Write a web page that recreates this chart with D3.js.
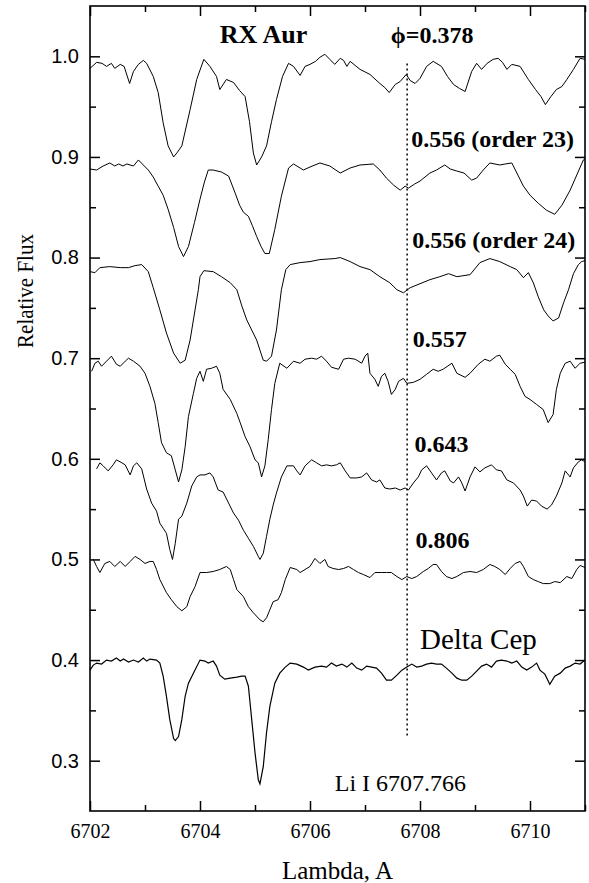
<!DOCTYPE html>
<html>
<head>
<meta charset="utf-8">
<script src="https://cdn.jsdelivr.net/npm/d3@7"></script>
<style>
  body { margin: 0; background: #fff; }
  svg { display: block; }
</style>
</head>
<body>
<div id="chart"></div>
<script>
// spectra: [wavelength (A), relative flux]
var phase378 = [[6702.00,0.988],[6702.12,0.994],[6702.22,0.993],[6702.30,0.990],[6702.39,0.993],[6702.45,0.988],[6702.55,0.992],[6702.62,0.990],[6702.72,0.973],[6702.79,0.985],[6702.88,0.992],[6702.97,0.996],[6703.03,0.993],[6703.15,0.980],[6703.24,0.964],[6703.33,0.934],[6703.42,0.911],[6703.52,0.900],[6703.58,0.904],[6703.67,0.911],[6703.82,0.947],[6703.94,0.977],[6704.07,0.997],[6704.18,0.990],[6704.30,0.980],[6704.36,0.967],[6704.48,0.977],[6704.61,0.974],[6704.72,0.966],[6704.82,0.960],[6704.90,0.935],[6704.97,0.904],[6705.03,0.892],[6705.12,0.900],[6705.21,0.911],[6705.30,0.935],[6705.39,0.957],[6705.50,0.980],[6705.61,0.993],[6705.70,0.990],[6705.82,0.981],[6705.91,0.990],[6706.00,0.992],[6706.10,0.995],[6706.18,0.999],[6706.27,1.002],[6706.36,0.997],[6706.45,0.992],[6706.55,0.998],[6706.61,0.996],[6706.67,0.990],[6706.73,0.995],[6706.82,0.991],[6706.91,0.987],[6707.09,0.982],[6707.27,0.973],[6707.36,0.969],[6707.44,0.964],[6707.55,0.972],[6707.64,0.975],[6707.75,0.982],[6707.82,0.976],[6707.91,0.973],[6708.00,0.978],[6708.12,0.990],[6708.24,0.995],[6708.39,0.990],[6708.50,0.980],[6708.61,0.972],[6708.72,0.968],[6708.82,0.965],[6708.94,0.985],[6709.03,0.993],[6709.12,0.987],[6709.22,0.993],[6709.33,0.997],[6709.42,0.998],[6709.50,0.994],[6709.58,0.987],[6709.67,0.992],[6709.82,0.990],[6709.97,0.977],[6710.10,0.967],[6710.20,0.960],[6710.28,0.952],[6710.38,0.960],[6710.48,0.967],[6710.58,0.970],[6710.67,0.977],[6710.79,0.987],[6710.91,0.998],[6711.00,0.997]];

var order23 = [[6702.00,0.888],[6702.12,0.887],[6702.24,0.891],[6702.36,0.894],[6702.45,0.891],[6702.52,0.893],[6702.60,0.891],[6702.67,0.893],[6702.79,0.891],[6702.88,0.897],[6702.97,0.892],[6703.06,0.887],[6703.15,0.880],[6703.24,0.871],[6703.33,0.862],[6703.42,0.848],[6703.52,0.830],[6703.61,0.811],[6703.70,0.801],[6703.79,0.811],[6703.90,0.835],[6704.00,0.858],[6704.08,0.875],[6704.15,0.887],[6704.24,0.887],[6704.39,0.885],[6704.52,0.881],[6704.64,0.864],[6704.72,0.852],[6704.79,0.845],[6704.88,0.841],[6704.95,0.832],[6705.03,0.821],[6705.11,0.811],[6705.18,0.804],[6705.26,0.804],[6705.36,0.828],[6705.48,0.861],[6705.61,0.889],[6705.70,0.893],[6705.82,0.889],[6705.88,0.887],[6706.00,0.890],[6706.18,0.894],[6706.36,0.891],[6706.55,0.884],[6706.73,0.889],[6706.91,0.892],[6707.15,0.893],[6707.27,0.887],[6707.39,0.879],[6707.52,0.872],[6707.64,0.867],[6707.73,0.871],[6707.79,0.869],[6707.90,0.873],[6708.00,0.876],[6708.18,0.884],[6708.30,0.887],[6708.45,0.892],[6708.55,0.888],[6708.67,0.886],[6708.80,0.884],[6708.94,0.877],[6709.03,0.879],[6709.15,0.887],[6709.27,0.894],[6709.45,0.892],[6709.55,0.893],[6709.67,0.894],[6709.78,0.882],[6709.88,0.871],[6710.00,0.862],[6710.15,0.854],[6710.30,0.847],[6710.45,0.843],[6710.58,0.852],[6710.73,0.867],[6710.85,0.882],[6710.97,0.897],[6711.00,0.898]];

var order24 = [[6702.00,0.786],[6702.09,0.785],[6702.18,0.790],[6702.36,0.791],[6702.55,0.790],[6702.70,0.790],[6702.82,0.792],[6702.94,0.793],[6703.06,0.786],[6703.15,0.770],[6703.27,0.748],[6703.39,0.725],[6703.52,0.705],[6703.64,0.695],[6703.73,0.698],[6703.82,0.718],[6703.91,0.748],[6703.97,0.768],[6704.00,0.781],[6704.07,0.787],[6704.24,0.786],[6704.39,0.781],[6704.55,0.775],[6704.67,0.768],[6704.76,0.752],[6704.85,0.738],[6704.94,0.728],[6705.03,0.718],[6705.15,0.698],[6705.21,0.697],[6705.30,0.702],[6705.39,0.728],[6705.48,0.768],[6705.56,0.788],[6705.64,0.793],[6705.82,0.795],[6706.00,0.796],[6706.18,0.798],[6706.45,0.799],[6706.55,0.800],[6706.73,0.796],[6706.91,0.791],[6707.09,0.788],[6707.27,0.781],[6707.45,0.775],[6707.58,0.768],[6707.70,0.765],[6707.82,0.770],[6708.00,0.774],[6708.18,0.778],[6708.36,0.781],[6708.52,0.784],[6708.67,0.781],[6708.91,0.783],[6709.09,0.795],[6709.27,0.799],[6709.45,0.796],[6709.64,0.791],[6709.76,0.788],[6709.88,0.780],[6709.97,0.785],[6710.06,0.775],[6710.15,0.761],[6710.25,0.748],[6710.33,0.742],[6710.42,0.737],[6710.52,0.740],[6710.61,0.755],[6710.70,0.768],[6710.79,0.784],[6710.88,0.793],[6710.94,0.796],[6711.00,0.797]];

var phase557 = [[6702.03,0.687],[6702.09,0.695],[6702.15,0.697],[6702.21,0.692],[6702.30,0.697],[6702.39,0.702],[6702.48,0.694],[6702.55,0.692],[6702.64,0.697],[6702.70,0.700],[6702.79,0.697],[6702.91,0.692],[6703.00,0.685],[6703.09,0.672],[6703.18,0.655],[6703.24,0.636],[6703.30,0.616],[6703.39,0.606],[6703.48,0.603],[6703.55,0.589],[6703.61,0.577],[6703.67,0.589],[6703.73,0.612],[6703.79,0.642],[6703.88,0.665],[6703.94,0.680],[6704.00,0.687],[6704.06,0.677],[6704.12,0.689],[6704.21,0.690],[6704.30,0.692],[6704.36,0.685],[6704.42,0.669],[6704.55,0.659],[6704.67,0.645],[6704.73,0.636],[6704.82,0.622],[6704.91,0.612],[6705.00,0.599],[6705.06,0.596],[6705.12,0.582],[6705.18,0.593],[6705.24,0.619],[6705.30,0.649],[6705.36,0.675],[6705.45,0.695],[6705.58,0.690],[6705.70,0.697],[6705.82,0.695],[6705.91,0.699],[6706.03,0.700],[6706.12,0.699],[6706.21,0.702],[6706.30,0.697],[6706.39,0.691],[6706.52,0.689],[6706.61,0.699],[6706.70,0.700],[6706.82,0.699],[6706.94,0.695],[6707.00,0.702],[6707.05,0.705],[6707.09,0.685],[6707.18,0.679],[6707.24,0.672],[6707.30,0.682],[6707.36,0.685],[6707.42,0.677],[6707.48,0.664],[6707.55,0.669],[6707.61,0.677],[6707.70,0.680],[6707.76,0.675],[6707.88,0.676],[6708.00,0.679],[6708.12,0.684],[6708.24,0.689],[6708.33,0.687],[6708.42,0.689],[6708.58,0.695],[6708.67,0.685],[6708.82,0.681],[6708.91,0.685],[6709.06,0.694],[6709.18,0.699],[6709.27,0.697],[6709.39,0.702],[6709.45,0.703],[6709.55,0.694],[6709.64,0.689],[6709.73,0.684],[6709.82,0.672],[6709.91,0.662],[6710.00,0.659],[6710.12,0.654],[6710.24,0.649],[6710.33,0.636],[6710.42,0.644],[6710.48,0.669],[6710.55,0.685],[6710.64,0.695],[6710.73,0.697],[6710.82,0.690],[6710.91,0.695],[6711.00,0.696]];

var phase643 = [[6702.12,0.590],[6702.18,0.596],[6702.24,0.593],[6702.33,0.588],[6702.42,0.594],[6702.48,0.599],[6702.58,0.596],[6702.64,0.594],[6702.73,0.584],[6702.79,0.593],[6702.85,0.596],[6702.94,0.590],[6703.03,0.570],[6703.12,0.556],[6703.21,0.548],[6703.27,0.536],[6703.33,0.531],[6703.39,0.526],[6703.45,0.510],[6703.50,0.500],[6703.55,0.516],[6703.61,0.540],[6703.67,0.543],[6703.76,0.556],[6703.85,0.573],[6703.94,0.582],[6704.00,0.584],[6704.09,0.584],[6704.18,0.586],[6704.24,0.582],[6704.33,0.569],[6704.42,0.567],[6704.52,0.556],[6704.61,0.546],[6704.70,0.539],[6704.79,0.529],[6704.88,0.521],[6704.97,0.513],[6705.06,0.503],[6705.09,0.500],[6705.15,0.506],[6705.21,0.523],[6705.27,0.540],[6705.33,0.554],[6705.39,0.566],[6705.48,0.582],[6705.58,0.593],[6705.70,0.593],[6705.76,0.588],[6705.82,0.584],[6705.91,0.593],[6706.03,0.599],[6706.12,0.596],[6706.21,0.593],[6706.30,0.594],[6706.39,0.593],[6706.48,0.594],[6706.55,0.596],[6706.64,0.588],[6706.73,0.581],[6706.85,0.581],[6706.94,0.582],[6707.03,0.586],[6707.12,0.579],[6707.21,0.577],[6707.27,0.579],[6707.36,0.571],[6707.45,0.570],[6707.55,0.571],[6707.64,0.569],[6707.73,0.571],[6707.79,0.569],[6707.88,0.576],[6707.97,0.582],[6708.03,0.589],[6708.12,0.593],[6708.21,0.586],[6708.30,0.579],[6708.39,0.586],[6708.45,0.588],[6708.55,0.578],[6708.61,0.576],[6708.70,0.582],[6708.76,0.576],[6708.82,0.568],[6708.91,0.582],[6709.00,0.592],[6709.09,0.587],[6709.18,0.591],[6709.30,0.594],[6709.39,0.589],[6709.48,0.588],[6709.58,0.579],[6709.70,0.576],[6709.82,0.569],[6709.88,0.563],[6709.95,0.553],[6710.03,0.559],[6710.12,0.558],[6710.21,0.553],[6710.31,0.550],[6710.39,0.554],[6710.48,0.563],[6710.58,0.576],[6710.64,0.588],[6710.73,0.582],[6710.79,0.591],[6710.88,0.597],[6710.94,0.599],[6711.00,0.597]];

var phase806 = [[6702.06,0.500],[6702.12,0.493],[6702.18,0.487],[6702.27,0.496],[6702.36,0.498],[6702.45,0.493],[6702.55,0.498],[6702.64,0.493],[6702.73,0.498],[6702.82,0.503],[6702.91,0.500],[6703.00,0.496],[6703.09,0.498],[6703.15,0.498],[6703.21,0.490],[6703.27,0.480],[6703.39,0.467],[6703.48,0.460],[6703.58,0.453],[6703.67,0.449],[6703.76,0.453],[6703.82,0.463],[6703.91,0.473],[6704.00,0.487],[6704.12,0.487],[6704.24,0.488],[6704.36,0.490],[6704.48,0.493],[6704.55,0.490],[6704.61,0.480],[6704.67,0.470],[6704.79,0.463],[6704.88,0.453],[6704.97,0.447],[6705.09,0.440],[6705.15,0.438],[6705.21,0.442],[6705.27,0.450],[6705.33,0.458],[6705.42,0.460],[6705.48,0.467],[6705.55,0.480],[6705.64,0.492],[6705.76,0.490],[6705.82,0.487],[6705.91,0.490],[6706.00,0.493],[6706.09,0.501],[6706.18,0.496],[6706.27,0.500],[6706.33,0.493],[6706.42,0.491],[6706.52,0.490],[6706.61,0.491],[6706.70,0.493],[6706.79,0.490],[6706.88,0.487],[6706.97,0.485],[6707.09,0.482],[6707.18,0.487],[6707.30,0.487],[6707.39,0.487],[6707.48,0.487],[6707.58,0.483],[6707.67,0.480],[6707.76,0.483],[6707.85,0.481],[6707.94,0.483],[6708.06,0.488],[6708.15,0.491],[6708.24,0.495],[6708.30,0.495],[6708.39,0.488],[6708.48,0.483],[6708.58,0.481],[6708.67,0.483],[6708.79,0.487],[6708.91,0.488],[6709.03,0.487],[6709.15,0.490],[6709.27,0.495],[6709.36,0.493],[6709.45,0.490],[6709.55,0.485],[6709.64,0.491],[6709.73,0.496],[6709.82,0.498],[6709.88,0.493],[6709.97,0.483],[6710.06,0.480],[6710.15,0.478],[6710.24,0.476],[6710.36,0.476],[6710.45,0.478],[6710.55,0.477],[6710.67,0.483],[6710.76,0.481],[6710.85,0.490],[6710.91,0.494],[6711.00,0.492]];

var deltaCep = [[6702.00,0.390],[6702.06,0.395],[6702.12,0.397],[6702.21,0.396],[6702.30,0.400],[6702.39,0.399],[6702.48,0.402],[6702.55,0.399],[6702.61,0.401],[6702.70,0.398],[6702.79,0.400],[6702.88,0.398],[6702.97,0.402],[6703.03,0.399],[6703.09,0.401],[6703.21,0.400],[6703.27,0.397],[6703.33,0.384],[6703.39,0.364],[6703.45,0.341],[6703.52,0.322],[6703.55,0.320],[6703.61,0.324],[6703.67,0.341],[6703.73,0.364],[6703.79,0.377],[6703.88,0.387],[6704.00,0.400],[6704.09,0.399],[6704.15,0.397],[6704.24,0.399],[6704.30,0.394],[6704.36,0.385],[6704.45,0.381],[6704.55,0.382],[6704.67,0.383],[6704.76,0.384],[6704.82,0.384],[6704.88,0.374],[6704.94,0.341],[6705.00,0.308],[6705.06,0.281],[6705.09,0.277],[6705.15,0.294],[6705.21,0.328],[6705.27,0.354],[6705.36,0.377],[6705.45,0.387],[6705.55,0.393],[6705.64,0.397],[6705.76,0.396],[6705.88,0.393],[6705.97,0.390],[6706.09,0.393],[6706.21,0.394],[6706.30,0.393],[6706.39,0.397],[6706.48,0.394],[6706.58,0.396],[6706.67,0.393],[6706.76,0.397],[6706.85,0.392],[6706.94,0.390],[6707.03,0.394],[6707.12,0.393],[6707.21,0.392],[6707.30,0.387],[6707.39,0.380],[6707.48,0.380],[6707.58,0.385],[6707.67,0.390],[6707.76,0.393],[6707.85,0.396],[6707.94,0.393],[6708.03,0.394],[6708.12,0.396],[6708.21,0.397],[6708.30,0.396],[6708.39,0.396],[6708.48,0.392],[6708.58,0.387],[6708.67,0.382],[6708.76,0.380],[6708.85,0.380],[6708.94,0.384],[6709.03,0.389],[6709.12,0.394],[6709.21,0.396],[6709.30,0.393],[6709.39,0.399],[6709.48,0.400],[6709.58,0.399],[6709.67,0.397],[6709.76,0.399],[6709.85,0.393],[6709.94,0.390],[6710.03,0.393],[6710.12,0.397],[6710.18,0.390],[6710.27,0.386],[6710.36,0.376],[6710.45,0.384],[6710.55,0.387],[6710.64,0.392],[6710.73,0.394],[6710.82,0.397],[6710.91,0.396],[6711.00,0.400]];

// axis ticks
var xMajor = [6702, 6704, 6706, 6708, 6710];
var xMinor = [6703, 6705, 6707, 6709, 6711];
var yMajor = [0.3, 0.4, 0.5, 0.6, 0.7, 0.8, 0.9, 1.0];
var yMinor = [0.35, 0.45, 0.55, 0.65, 0.75, 0.85, 0.95];

// Li I line marker
var liLine = 6707.766;
var liRange = [0.325, 0.995];

// labels next to each spectrum: text, wavelength, flux at baseline
var labelText = ["\u03D5=0.378", "0.556 (order 23)", "0.556 (order 24)", "0.557", "0.643", "0.806"];
var labelX = [6707.47, 6707.84, 6707.86, 6707.87, 6707.90, 6707.92];
var labelY = [1.013, 0.910, 0.810, 0.711, 0.607, 0.511];

var svgWidth = 589;
var svgHeight = 883;
var margin = {top: 6, right: 4, bottom: 72, left: 90},
    width = svgWidth - margin.left - margin.right,
    height = svgHeight - margin.top - margin.bottom;

var serif = "'Liberation Serif', 'Times New Roman', serif";
var sans = "'Liberation Sans', Arial, sans-serif";

var svg = d3.select("#chart")
    .append("svg")
    .attr("width", svgWidth)
    .attr("height", svgHeight);

var chart = svg.append("g")
    .attr("transform", `translate(${margin.left}, ${margin.top})`);

var x = d3.scaleLinear().domain([6702, 6711]).range([0, width]);
var y = d3.scaleLinear().domain([0.25, 1.05]).range([height, 0]);

// axes with inward ticks
function noDomain(g) { g.select(".domain").remove(); }

chart.append("g")
    .attr("transform", `translate(0, ${height})`)
    .call(d3.axisBottom(x).tickValues(xMajor).tickSize(-10).tickPadding(13).tickFormat(d3.format("d")))
    .call(noDomain)
    .call(g => g.selectAll("text").attr("font-family", serif).attr("font-size", 20).attr("fill", "#000"));
chart.append("g")
    .attr("transform", `translate(0, ${height})`)
    .call(d3.axisBottom(x).tickValues(xMinor).tickSize(-6).tickFormat(""))
    .call(noDomain);
chart.append("g")
    .call(d3.axisTop(x).tickValues(xMajor).tickSize(-10).tickFormat(""))
    .call(noDomain);
chart.append("g")
    .call(d3.axisTop(x).tickValues(xMinor).tickSize(-6).tickFormat(""))
    .call(noDomain);

chart.append("g")
    .call(d3.axisLeft(y).tickValues(yMajor).tickSize(-10).tickPadding(11).tickFormat(d3.format(".1f")))
    .call(noDomain)
    .call(g => g.selectAll("text").attr("font-family", sans).attr("font-size", 20).attr("fill", "#000"));
chart.append("g")
    .call(d3.axisLeft(y).tickValues(yMinor).tickSize(-6).tickFormat(""))
    .call(noDomain);
chart.append("g")
    .attr("transform", `translate(${width}, 0)`)
    .call(d3.axisRight(y).tickValues(yMajor).tickSize(-10).tickFormat(""))
    .call(noDomain);
chart.append("g")
    .attr("transform", `translate(${width}, 0)`)
    .call(d3.axisRight(y).tickValues(yMinor).tickSize(-6).tickFormat(""))
    .call(noDomain);

chart.selectAll(".tick line").attr("stroke", "#000").attr("stroke-width", 1.5);

// frame
chart.append("rect")
    .attr("width", width)
    .attr("height", height)
    .attr("fill", "none")
    .attr("stroke", "#000")
    .attr("stroke-width", 1.6);

// dotted Li line
chart.append("line")
    .attr("x1", x(liLine)).attr("x2", x(liLine))
    .attr("y1", y(liRange[0])).attr("y2", y(liRange[1]))
    .attr("stroke", "#000")
    .attr("stroke-width", 1.5)
    .attr("stroke-dasharray", "2,3");

// spectra
var line = d3.line()
    .x(d => x(d[0]))
    .y(d => y(d[1]));

var spectra = [phase378, order23, order24, phase557, phase643, phase806];
chart.selectAll(".spec")
    .data(spectra)
    .enter()
    .append("path")
    .attr("class", "spec")
    .attr("d", line)
    .attr("fill", "none")
    .attr("stroke", "#000")
    .attr("stroke-width", 1);

chart.append("path")
    .datum(deltaCep)
    .attr("d", line)
    .attr("fill", "none")
    .attr("stroke", "#000")
    .attr("stroke-width", 1.2);

// phase labels
chart.selectAll(".phase")
    .data(labelText)
    .enter()
    .append("text")
    .attr("class", "phase")
    .attr("x", (d, i) => x(labelX[i]))
    .attr("y", (d, i) => y(labelY[i]))
    .attr("font-family", serif)
    .attr("font-weight", "bold")
    .attr("font-size", 24)
    .text(d => d);

chart.append("text")
    .attr("x", x(6704.36))
    .attr("y", y(1.013))
    .attr("font-family", serif)
    .attr("font-weight", "bold")
    .attr("font-size", 26)
    .text("RX Aur");

chart.append("text")
    .attr("x", x(6708.0))
    .attr("y", y(0.411))
    .attr("font-family", serif)
    .attr("font-size", 29)
    .text("Delta Cep");

chart.append("text")
    .attr("x", x(6706.45))
    .attr("y", y(0.27))
    .attr("font-family", serif)
    .attr("font-size", 24)
    .text("Li I 6707.766");

// axis titles
svg.append("text")
    .attr("x", margin.left + width / 2)
    .attr("y", 879)
    .attr("text-anchor", "middle")
    .attr("font-family", serif)
    .attr("font-size", 25)
    .text("Lambda, A");

svg.append("text")
    .attr("transform", "translate(33, 291) rotate(-90)")
    .attr("text-anchor", "middle")
    .attr("font-family", serif)
    .attr("font-size", 24)
    .attr("textLength", 114)
    .attr("lengthAdjust", "spacingAndGlyphs")
    .text("Relative Flux");
</script>
</body>
</html>
